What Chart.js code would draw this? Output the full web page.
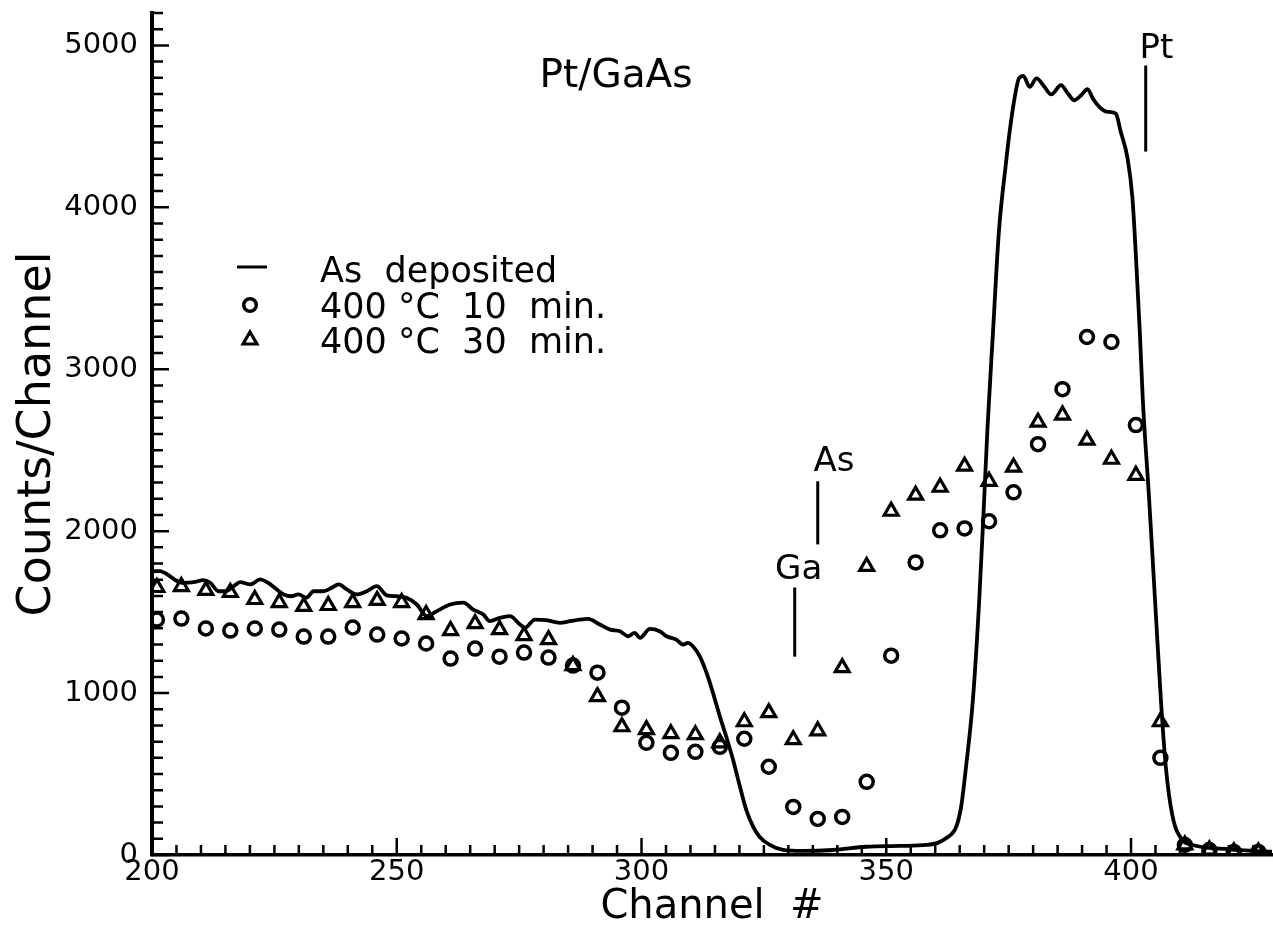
<!DOCTYPE html>
<html>
<head>
<meta charset="utf-8">
<title>Pt/GaAs</title>
<script src="https://cdn.jsdelivr.net/npm/chart.js@4.4.0/dist/chart.umd.min.js"></script>
<style>
  html, body { margin: 0; padding: 0; background: #fff; }
  #wrap { width: 1273px; height: 939px; position: relative; }
</style>
</head>
<body>
<div id="wrap"><canvas id="rbs"></canvas></div>
<script>
// channel axis / counts axis
const xMin = 200, xMax = 428.8, xMinorStep = 5;
const yMin = 0, yMax = 5200, yMinorStep = 100;
const xTickLabels = [200, 250, 300, 350, 400];
const yTickLabels = [0, 1000, 2000, 3000, 4000, 5000];

// As deposited (solid curve)
const lineChannels = [200, 201.7, 203.1, 204.8, 206.4, 208.5, 210.5, 211.9, 213.6, 215, 216.7, 218, 220.1, 222.1, 223.5,
  225.5, 226.9, 228.6, 229.9, 231.6, 233, 235, 236.7, 238.1, 239.8, 241.8, 243.9, 245.9, 248, 250, 252, 254.1, 256.1,
  258.2, 260.9, 263.6, 265.6, 267.7, 269, 271.1, 273.1, 275.2, 276.2, 278.2, 280.6, 283.3, 285.4, 287.4, 289.1, 291.5,
  293.6, 295.6, 297.3, 298.6, 299.7, 301.7, 303.7, 305.1, 307.1, 308.5, 309.5, 310.5, 311.9, 313.3, 314.6, 316, 317.3,
  318.7, 320.1, 321.4, 322.8, 324.1, 326.2, 328.9, 333, 339.1, 345.9, 352.7, 358.2, 360.5, 362.2, 364.3, 365.3, 366.3,
  367.7, 369, 370, 370.7, 371.8, 373, 374.4, 375.2, 376.2, 377.1, 378, 379.3, 380.7, 382.3, 383.7, 385.7, 387.1,
  388.4, 389.8, 391.1, 392.2, 393.5, 395.2, 396.9, 397.9, 399.3, 400.3, 401.1, 401.8, 402.4, 403.7, 404.9, 406.1, 407.1,
  408.5, 410.5, 412.6, 420, 428.8];
const lineCounts = [1753, 1753, 1733, 1697, 1681, 1685, 1697, 1681, 1629, 1629, 1660, 1685, 1671, 1702, 1685,
  1640, 1609, 1598, 1609, 1589, 1629, 1629, 1650, 1671, 1640, 1609, 1629, 1660, 1603, 1598, 1589, 1547, 1475,
  1506, 1547, 1558, 1516, 1485, 1444, 1465, 1475, 1423, 1403, 1454, 1450, 1434, 1444, 1454, 1458, 1423,
  1392, 1382, 1351, 1372, 1341, 1396, 1382, 1351, 1330, 1299, 1310, 1289, 1227, 1124, 1001, 856, 732,
  588, 423, 278, 175, 113, 62, 31, 25, 31, 51, 56, 62, 75, 103, 175, 299, 546,
  959, 1578, 2197, 2650, 3228, 3847, 4259, 4466, 4672, 4796, 4812, 4744, 4796, 4744, 4697, 4754, 4703,
  4661, 4692, 4730, 4672, 4621, 4590, 4579, 4466, 4301, 4053, 3641, 3228, 2816, 2197, 1578, 959, 546,
  237, 93, 62, 35, 20];

// annealed samples, one point every 5 channels
const pointChannels = [201, 206, 211, 216, 221, 226, 231, 236, 241, 246, 251, 256, 261, 266, 271, 276, 281, 286,
  291, 296, 301, 306, 311, 316, 321, 326, 331, 336, 341, 346, 351, 356, 361, 366, 371, 376, 381, 386, 391, 396,
  401, 406, 411, 416, 421, 426];
const counts10min = [1454, 1460, 1399, 1386, 1399, 1392, 1349, 1349, 1405, 1361, 1337, 1306, 1213, 1275, 1225, 1250,
  1219, 1170, 1126, 910, 693, 631, 637, 668, 718, 545, 297, 223, 235, 452, 1231, 1807, 2005, 2017, 2061, 2240,
  2537, 2877, 3199, 3168, 2655, 600, 62, 31, 19, 19];
const counts30min = [1652, 1658, 1634, 1621, 1578, 1559, 1535, 1541, 1559, 1572, 1559, 1485, 1386, 1429, 1392, 1355,
  1330, 1170, 978, 792, 774, 749, 743, 693, 823, 879, 712, 767, 1157, 1782, 2123, 2222, 2271, 2401, 2308, 2395,
  2673, 2717, 2562, 2444, 2345, 823, 62, 31, 19, 19];

const seriesNames = ['As deposited', '400 °C 10 min.', '400 °C 30 min.'];
const legendLabels = ['As  deposited', '400 °C  10  min.', '400 °C  30  min.'];

// element markers: label, channel, counts range of the bar, label anchor
const markLabels = ['Pt', 'As', 'Ga'];
const markChannels = [403, 336, 331.3];
const markLow = [4344, 1918, 1225];
const markHigh = [4876, 2308, 1652];
const markTextCh = [405.2, 339.3, 332.1];
const markTextVal = [4920, 2370, 1702];

const plotTitle = 'Pt/GaAs';
const FONT = '"DejaVu Sans", "Liberation Sans", sans-serif';

function toXY(xs, ys) {
  return xs.map((c, i) => ({ x: c, y: ys[i] }));
}

// inward tick marks, drawn from the chart's own scales
const innerTicks = {
  id: 'innerTicks',
  afterDatasetsDraw(chart) {
    const { ctx, chartArea, scales: { x, y } } = chart;
    ctx.save();
    ctx.strokeStyle = '#000';
    ctx.lineWidth = 2.5;
    ctx.beginPath();
    for (let c = xMin; c <= xMax; c += xMinorStep) {
      const px = x.getPixelForValue(c);
      const len = xTickLabels.includes(c) ? 17 : 10;
      ctx.moveTo(px, chartArea.bottom);
      ctx.lineTo(px, chartArea.bottom - len);
    }
    for (let v = yMin; v <= yMax; v += yMinorStep) {
      const py = y.getPixelForValue(v);
      const len = yTickLabels.includes(v) ? 17 : 11;
      ctx.moveTo(chartArea.left, py);
      ctx.lineTo(chartArea.left + len, py);
    }
    ctx.stroke();
    ctx.restore();
  }
};

// title, element markers and the in-plot legend
const annotations = {
  id: 'annotations',
  afterDraw(chart) {
    const { ctx, scales: { x, y } } = chart;
    ctx.save();
    ctx.fillStyle = '#000';
    ctx.strokeStyle = '#000';
    ctx.textBaseline = 'alphabetic';

    ctx.font = '39px ' + FONT;
    ctx.textAlign = 'center';
    ctx.fillText(plotTitle, x.getPixelForValue(294.8), y.getPixelForValue(4740));

    ctx.font = '34px ' + FONT;
    ctx.lineWidth = 3;
    markLabels.forEach((lab, i) => {
      const px = x.getPixelForValue(markChannels[i]);
      ctx.beginPath();
      ctx.moveTo(px, y.getPixelForValue(markHigh[i]));
      ctx.lineTo(px, y.getPixelForValue(markLow[i]));
      ctx.stroke();
      ctx.fillText(lab, x.getPixelForValue(markTextCh[i]), y.getPixelForValue(markTextVal[i]));
    });

    // legend
    const symX = 250, textX = 320, baselines = [282, 318, 353];
    ctx.font = '35px ' + FONT;
    ctx.textAlign = 'left';
    legendLabels.forEach((lab, i) => {
      const by = baselines[i];
      const cy = by - 13;
      ctx.lineWidth = 3;
      ctx.beginPath();
      if (i === 0) {
        ctx.moveTo(symX - 13, cy - 2);
        ctx.lineTo(symX + 17, cy - 2);
      } else if (i === 1) {
        ctx.lineWidth = 3.5;
        ctx.arc(symX, cy, 6.3, 0, Math.PI * 2);
      } else {
        const r = 8;
        ctx.lineWidth = 3.2;
        ctx.moveTo(symX, cy - r);
        ctx.lineTo(symX + r * 0.866, cy + r / 2);
        ctx.lineTo(symX - r * 0.866, cy + r / 2);
        ctx.closePath();
      }
      ctx.stroke();
      ctx.fillText(lab, textX, by);
    });
    ctx.restore();
  }
};

const chart = new Chart(document.getElementById('rbs'), {
  type: 'scatter',
  data: {
    datasets: [
      {
        label: seriesNames[0],
        data: toXY(lineChannels, lineCounts),
        showLine: true,
        cubicInterpolationMode: 'monotone',
        borderColor: '#000',
        borderWidth: 3.8,
        pointRadius: 0,
        fill: false
      },
      {
        label: seriesNames[1],
        data: toXY(pointChannels, counts10min),
        pointStyle: 'circle',
        pointRadius: 6.5,
        borderColor: '#000',
        borderWidth: 3.5,
        backgroundColor: 'rgba(0,0,0,0)'
      },
      {
        label: seriesNames[2],
        data: toXY(pointChannels, counts30min),
        pointStyle: 'triangle',
        pointRadius: 8,
        borderColor: '#000',
        borderWidth: 3.2,
        backgroundColor: 'rgba(0,0,0,0)'
      }
    ]
  },
  options: {
    responsive: true,
    maintainAspectRatio: false,
    animation: false,
    layout: { autoPadding: false, padding: { top: 13, right: 1, left: 0, bottom: 0 } },
    plugins: {
      legend: { display: false },
      tooltip: { enabled: false }
    },
    scales: {
      x: {
        type: 'linear',
        min: xMin,
        max: xMax,
        grid: { display: false, drawTicks: false },
        border: { display: true, color: '#000', width: 3.5 },
        ticks: {
          autoSkip: false,
          maxRotation: 0,
          padding: 0,
          color: '#000',
          font: { family: FONT, size: 29 },
          callback: (v) => String(v)
        },
        afterBuildTicks(scale) {
          scale.ticks = xTickLabels.map((v) => ({ value: v }));
        },
        title: {
          display: true,
          text: 'Channel  #',
          color: '#000',
          font: { family: FONT, size: 40 },
          padding: { top: 0, bottom: 7 }
        },
        afterFit(scale) {
          scale.height = 84;
          scale.paddingLeft = 0;
          scale.paddingRight = 0;
        }
      },
      y: {
        type: 'linear',
        min: yMin,
        max: yMax,
        grid: { display: false, drawTicks: false },
        border: { display: true, color: '#000', width: 4 },
        ticks: {
          autoSkip: false,
          padding: 14,
          color: '#000',
          font: { family: FONT, size: 29 },
          callback: (v) => String(v)
        },
        afterBuildTicks(scale) {
          scale.ticks = yTickLabels.map((v) => ({ value: v }));
        },
        title: {
          display: true,
          text: 'Counts/Channel',
          color: '#000',
          font: { family: FONT, size: 46 },
          padding: { top: 10, bottom: 0 }
        },
        afterFit(scale) {
          scale.width = 152;
          scale.paddingTop = 0;
          scale.paddingBottom = 0;
        }
      }
    }
  },
  plugins: [innerTicks, annotations]
});
</script>
</body>
</html>
